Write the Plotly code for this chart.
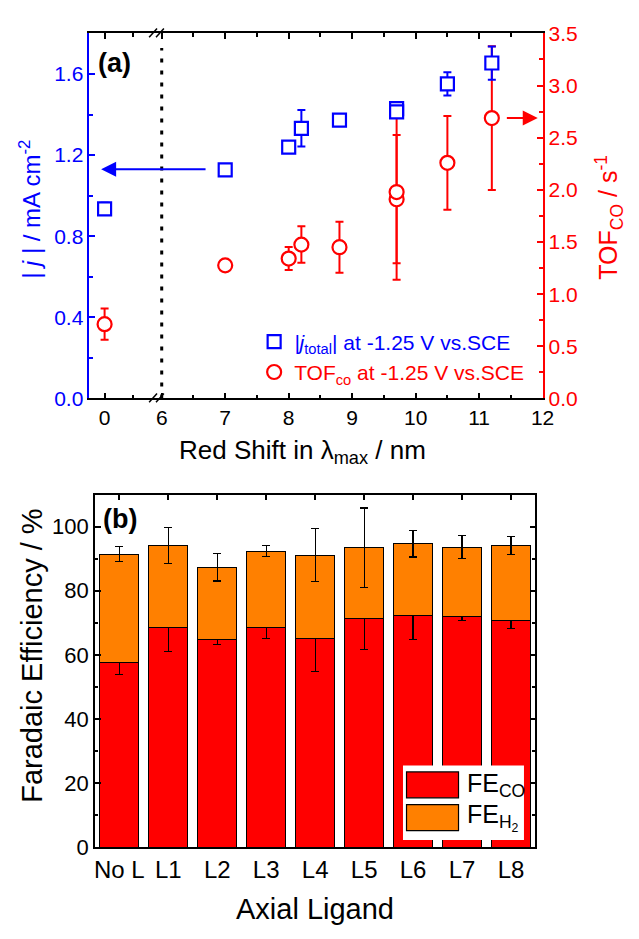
import plotly.graph_objects as go

FONT = "Liberation Sans, Arial, Helvetica, sans-serif"
BLUE = "#0000FF"
RED = "#FF0000"
ORANGE = "#FF8000"

# ---- Panel (a): |j_total| and TOF_CO versus red shift of lambda_max ----
red_shift = [0, 7, 8, 8.2, 8.8, 9.7, 9.7, 10.5, 11.2]
j_total = [0.935, 1.127, 1.239, 1.332, 1.372, 1.429, 1.413, 1.551, 1.654]
j_total_err = [0.03, 0.012, 0.012, 0.09, 0.012, 0.02, 0.02, 0.057, 0.082]
tof_co = [0.712, 1.276, 1.341, 1.475, 1.45, 1.91, 1.979, 2.259, 2.688]
tof_co_err = [0.15, 0.025, 0.11, 0.175, 0.245, 0.615, 0.84, 0.45, 0.69]
shift_ticks = [0, 6, 7, 8, 9, 10, 11, 12]
shift_minor = [3, 6.5, 7.5, 8.5, 9.5, 10.5, 11.5]
j_ticks = [0.0, 0.4, 0.8, 1.2, 1.6]
j_minor = [0.2, 0.6, 1.0, 1.4]

# ---- Panel (b): Faradaic efficiency per axial ligand ----
ligands = ["No L", "L1", "L2", "L3", "L4", "L5", "L6", "L7", "L8"]
fe_co = [57.5, 68.6, 64.8, 68.6, 65.0, 71.3, 72.2, 72.0, 70.8]
fe_co_err = [3.7, 7.6, 1.5, 3.4, 10.3, 9.6, 7.4, 1.3, 2.5]
fe_h2 = [33.9, 25.5, 22.5, 23.7, 26.1, 22.1, 22.4, 21.6, 23.3]
fe_total_err = [2.4, 5.7, 4.3, 1.7, 8.3, 12.4, 4.1, 3.6, 2.7]

# Broken x axis: the 0..6 interval is compressed into a short segment
BREAK_AT = 6.0
ZERO_POS = 5.10


def axis_pos(v):
    if v >= BREAK_AT:
        return v
    return ZERO_POS + v * (BREAK_AT - ZERO_POS) / BREAK_AT


W, H = 639, 939


def px(x):
    return x / W


def py(y):
    return 1 - y / H


fig = go.Figure()

fig.add_trace(go.Scatter(
    x=[axis_pos(v) for v in red_shift], y=j_total,
    mode="markers", xaxis="x", yaxis="y2", legendgroup="j",
    name='<span style="color:#0000FF"><i>|j</i><sub>total</sub>| at -1.25 V vs.SCE</span>',
    marker=dict(symbol="square", size=13, color="white",
                line=dict(color=BLUE, width=2.2)),
    error_y=dict(type="data", array=j_total_err, color=BLUE,
                 thickness=2, width=4),
))
fig.add_trace(go.Scatter(
    x=[axis_pos(v) for v in red_shift], y=tof_co,
    mode="markers", xaxis="x", yaxis="y", legendgroup="tof",
    name='<span style="color:#FF0000">TOF<sub>co</sub> at -1.25 V vs.SCE</span>',
    marker=dict(symbol="circle", size=14, color="white",
                line=dict(color=RED, width=2.2)),
    error_y=dict(type="data", array=tof_co_err, color=RED,
                 thickness=2, width=4),
))

err_style = dict(color="black", thickness=1.2, width=4)
fig.add_trace(go.Bar(
    x=ligands, y=fe_co, xaxis="x2", yaxis="y3", name="FE_CO",
    marker=dict(color=RED, line=dict(color="black", width=1)),
    width=0.8, showlegend=False,
    error_y=dict(type="data", array=fe_co_err, **err_style),
))
fig.add_trace(go.Bar(
    x=ligands, y=fe_h2, xaxis="x2", yaxis="y3", name="FE_H2",
    marker=dict(color=ORANGE, line=dict(color="black", width=1)),
    width=0.8, showlegend=False,
    error_y=dict(type="data", array=fe_total_err, **err_style),
))

tick_common = dict(ticks="inside", ticklen=6, tickwidth=1.5, showgrid=False,
                   zeroline=False, showline=True, linewidth=1.5)

fig.update_layout(
    width=W, height=H,
    margin=dict(l=0, r=0, t=0, b=0),
    paper_bgcolor="white", plot_bgcolor="white",
    font=dict(family=FONT, color="black"),
    barmode="stack",
    xaxis=dict(
        domain=[px(91), px(553)], anchor="y",
        range=[4.859, 12.0],
        tickvals=[axis_pos(v) for v in shift_ticks],
        ticktext=[str(v) for v in shift_ticks],
        tickcolor="black", linecolor="black", mirror="ticks",
        tickfont=dict(size=21, color="black"),
        minor=dict(tickvals=[axis_pos(v) for v in shift_minor],
                   ticks="inside", ticklen=3.5, tickwidth=1.5,
                   tickcolor="black"),
        **tick_common,
    ),
    yaxis=dict(
        domain=[py(397), py(22)], anchor="x", side="right",
        range=[0, 3.5], tick0=0, dtick=0.5, tickformat=".1f",
        tickcolor=RED, linecolor=RED,
        tickfont=dict(size=21, color=RED),
        minor=dict(dtick=0.25, ticks="inside", ticklen=3.5, tickwidth=1.5,
                   tickcolor=RED),
        **tick_common,
    ),
    yaxis2=dict(
        overlaying="y", anchor="x", side="left",
        range=[0, 1.8], tickvals=j_ticks, tickformat=".1f",
        tickcolor=BLUE, linecolor=BLUE,
        tickfont=dict(size=21, color=BLUE),
        minor=dict(tickvals=j_minor, ticks="inside", ticklen=3.5,
                   tickwidth=1.5, tickcolor=BLUE),
        **tick_common,
    ),
    xaxis2=dict(
        domain=[px(96.7), px(545.7)], anchor="y3", type="category",
        range=[-0.5, 8.5], tickcolor="black", linecolor="black",
        mirror="ticks", layer="below traces",
        tickfont=dict(size=24, color="black"),
        **tick_common,
    ),
    yaxis3=dict(
        domain=[py(858), py(495.7)], anchor="x2",
        range=[0, 110], tick0=0, dtick=20,
        tickcolor="black", linecolor="black", mirror="ticks",
        tickfont=dict(size=22, color="black"),
        minor=dict(dtick=10, ticks="inside", ticklen=3.5, tickwidth=1.5,
                   tickcolor="black"),
        **tick_common,
    ),
    legend=dict(
        x=px(259), y=py(318), xanchor="left", yanchor="top",
        traceorder="normal",
        bgcolor="rgba(0,0,0,0)", font=dict(size=21, family=FONT),
        itemwidth=30, tracegroupgap=3,
    ),
)

shapes = []
# dotted marker of the axis break
shapes.append(dict(type="line", xref="x", yref="y domain",
                   x0=BREAK_AT, x1=BREAK_AT, y0=0.0, y1=0.96,
                   line=dict(color="black", width=3, dash="4px,8px")))
# "//" break symbols on the bottom and top axis lines
for base in (0.0, 1.0):
    for x0, x1 in ((5.802, 5.926), (5.910, 6.034)):
        shapes.append(dict(type="line", xref="x", yref="y domain",
                           x0=x0, x1=x1, y0=base - 0.0107, y1=base + 0.0133,
                           line=dict(color="black", width=1.5)))
# legend box of panel (b)
shapes.append(dict(type="rect", xref="paper", yref="paper",
                   x0=px(410.7), x1=px(534), y0=py(850.7), y1=py(774),
                   fillcolor="white", line=dict(width=0)))
shapes.append(dict(type="rect", xref="paper", yref="paper",
                   x0=px(414.3), x1=px(467.3), y0=py(807.3), y1=py(780.7),
                   fillcolor=RED, line=dict(color="black", width=1.2)))
shapes.append(dict(type="rect", xref="paper", yref="paper",
                   x0=px(414.3), x1=px(467.3), y0=py(841), y1=py(814.3),
                   fillcolor=ORANGE, line=dict(color="black", width=1.2)))
fig.update_layout(shapes=shapes)


def label(text, x, y, size, color="black", angle=0, xanchor="center"):
    return dict(text=text, xref="paper", yref="paper", x=px(x), y=py(y),
                xanchor=xanchor, yanchor="middle", showarrow=False,
                textangle=angle, font=dict(size=size, color=color))


ann = [
    # axis titles
    label("Red Shift in λ<sub>max</sub> / nm", 308, 452, 26),
    label("<i>| j |</i> / mA cm<sup>-2</sup>", 30, 203, 24, BLUE, -90),
    label("TOF<sub>CO</sub> / s<sup>-1</sup>", 621, 211, 25, RED, -90),
    label("Faradaic Efficiency / %", 33, 661, 29, angle=-90),
    label("Axial Ligand", 321, 922, 29),
    # panel labels
    label("<b>(a)</b>", 98, 52, 27, xanchor="left"),
    label("<b>(b)</b>", 103, 521, 27, xanchor="left"),
    # legend labels of panel (b)
    label("FE<sub>CO</sub>", 474, 794, 25, xanchor="left"),
    label("FE<sub>H<sub>2</sub></sub>", 474, 828, 25, xanchor="left"),
]
# arrows pointing each series to its axis
ann.append(dict(text="", x=5.045, y=1.13, xref="x", yref="y2",
                ax=6.714, ay=1.13, axref="x", ayref="y2",
                showarrow=True, arrowhead=2, arrowsize=1.5, arrowwidth=2,
                arrowcolor=BLUE))
ann.append(dict(text="", x=11.923, y=2.69, xref="x", yref="y",
                ax=11.413, ay=2.69, axref="x", ayref="y",
                showarrow=True, arrowhead=2, arrowsize=1.5, arrowwidth=2,
                arrowcolor=RED))
fig.update_layout(annotations=ann)

# page body without margin so the figure fills the window
fig.write_html("out.html", post_script="document.body.style.margin='0px';")
